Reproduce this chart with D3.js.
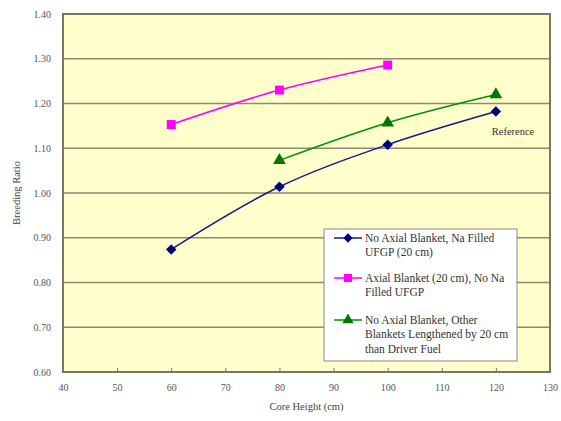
<!DOCTYPE html>
<html>
<head>
<meta charset="utf-8">
<script src="https://cdn.jsdelivr.net/npm/d3@7"></script>
<style>
  html, body { margin: 0; padding: 0; background: #ffffff; }
  svg { display: block; }
  svg text { font-family: "Liberation Serif", "Times New Roman", "DejaVu Serif", serif !important; }
</style>
</head>
<body>
<svg id="chart" width="561" height="421"></svg>
<script>
// Core height (cm) and breeding ratio for each configuration
const heights1 = [60, 80, 100, 120];
const ratios1 = [0.874, 1.014, 1.108, 1.182];
const heights2 = [60, 80, 100];
const ratios2 = [1.153, 1.230, 1.286];
const heights3 = [80, 100, 120];
const ratios3 = [1.073, 1.157, 1.220];

const seriesNames = [
  ["No Axial Blanket, Na Filled", "UFGP (20 cm)"],
  ["Axial Blanket (20 cm), No Na", "Filled UFGP"],
  ["No Axial Blanket, Other", "Blankets Lengthened by 20 cm", "than Driver Fuel"]
];
const xTicks = [40, 50, 60, 70, 80, 90, 100, 110, 120, 130];
const yTicks = [0.6, 0.7, 0.8, 0.9, 1.0, 1.1, 1.2, 1.3, 1.4];

const svg = d3.select("#chart");
const plot = { left: 63, right: 550, top: 14, bottom: 372 };

const x = d3.scaleLinear().domain([40, 130]).range([plot.left, plot.right]);
const y = d3.scaleLinear().domain([0.6, 1.4]).range([plot.bottom, plot.top]);

// plot background
svg.append("rect")
  .attr("x", plot.left).attr("y", plot.top)
  .attr("width", plot.right - plot.left).attr("height", plot.bottom - plot.top)
  .attr("fill", "#ffffcc");

// horizontal gridlines
svg.append("g").selectAll("line")
  .data(yTicks.slice(1, -1))
  .join("line")
  .attr("x1", plot.left).attr("x2", plot.right)
  .attr("y1", d => y(d)).attr("y2", d => y(d))
  .attr("stroke", "#8a8a70").attr("stroke-width", 1.3);

// axes
const xAxis = d3.axisBottom(x).tickValues(xTicks).tickFormat(d3.format("d")).tickSize(4).tickPadding(8);
const yAxis = d3.axisLeft(y).tickValues(yTicks).tickFormat(d3.format(".2f")).tickSize(0).tickPadding(12);

const gx = svg.append("g").attr("transform", `translate(0,${plot.bottom})`).call(xAxis);
const gy = svg.append("g").attr("transform", `translate(${plot.left},0)`).call(yAxis);
[gx, gy].forEach(g => {
  g.select(".domain").remove();
  g.selectAll("text").attr("font-size", 10).attr("fill", "#555");
  g.selectAll("line").attr("stroke", "#777");
});
gx.selectAll(".tick line").attr("transform", "translate(0,-4)");

// plot border
svg.append("rect")
  .attr("x", plot.left).attr("y", plot.top)
  .attr("width", plot.right - plot.left).attr("height", plot.bottom - plot.top)
  .attr("fill", "none").attr("stroke", "#777766").attr("stroke-width", 2);

// axis titles
svg.append("text")
  .attr("x", (plot.left + plot.right) / 2).attr("y", 410)
  .attr("text-anchor", "middle").attr("font-size", 10.5).attr("fill", "#444")
  .text("Core Height (cm)");
svg.append("text")
  .attr("transform", `translate(20,${(plot.top + plot.bottom) / 2}) rotate(-90)`)
  .attr("text-anchor", "middle").attr("font-size", 10.5).attr("fill", "#444")
  .text("Breeding Ratio");

// diamond drawn as a square turned by 45 degrees
const diamond = {
  draw(ctx, size) {
    const r = Math.sqrt(size / 2);
    ctx.moveTo(0, -r); ctx.lineTo(r, 0); ctx.lineTo(0, r); ctx.lineTo(-r, 0); ctx.closePath();
  }
};

const series = [
  { xs: heights1, ys: ratios1, line: "#1a1a88", mark: "#000080", shape: diamond, size: 55 },
  { xs: heights2, ys: ratios2, line: "#ff00ff", mark: "#ff00ff", shape: d3.symbolSquare, size: 80 },
  { xs: heights3, ys: ratios3, line: "#009000", mark: "#007800", shape: d3.symbolTriangle, size: 70 }
];

const lineGen = d3.line().x(d => x(d[0])).y(d => y(d[1])).curve(d3.curveCatmullRom.alpha(0.5));

series.forEach(s => {
  const pts = s.xs.map((v, i) => [v, s.ys[i]]);
  svg.append("path").datum(pts)
    .attr("d", lineGen)
    .attr("fill", "none").attr("stroke", s.line).attr("stroke-width", 1.5);
  svg.append("g").selectAll("path")
    .data(pts).join("path")
    .attr("transform", d => `translate(${x(d[0])},${y(d[1])})`)
    .attr("d", d3.symbol().type(s.shape).size(s.size))
    .attr("fill", s.mark);
});

// label for the reference configuration
svg.append("text")
  .attr("x", 513).attr("y", 135)
  .attr("text-anchor", "middle").attr("font-size", 10.5).attr("fill", "#333")
  .text("Reference");

// legend
const legend = svg.append("g");
legend.append("rect")
  .attr("x", 324).attr("y", 229).attr("width", 193).attr("height", 132)
  .attr("fill", "#ffffff").attr("stroke", "#888").attr("stroke-width", 1);
const rowY = [238, 278, 320];
series.forEach((s, i) => {
  const ly = rowY[i];
  legend.append("line")
    .attr("x1", 334).attr("x2", 362).attr("y1", ly).attr("y2", ly)
    .attr("stroke", s.line).attr("stroke-width", 1.5);
  legend.append("path")
    .attr("transform", `translate(348,${ly})`)
    .attr("d", d3.symbol().type(s.shape).size(s.size * 0.8))
    .attr("fill", s.mark);
  seriesNames[i].forEach((t, j) => {
    legend.append("text")
      .attr("x", 365).attr("y", ly + 3.5 + j * 14.5)
      .attr("font-size", 11.5).attr("fill", "#333")
      .text(t);
  });
});
</script>
</body>
</html>
